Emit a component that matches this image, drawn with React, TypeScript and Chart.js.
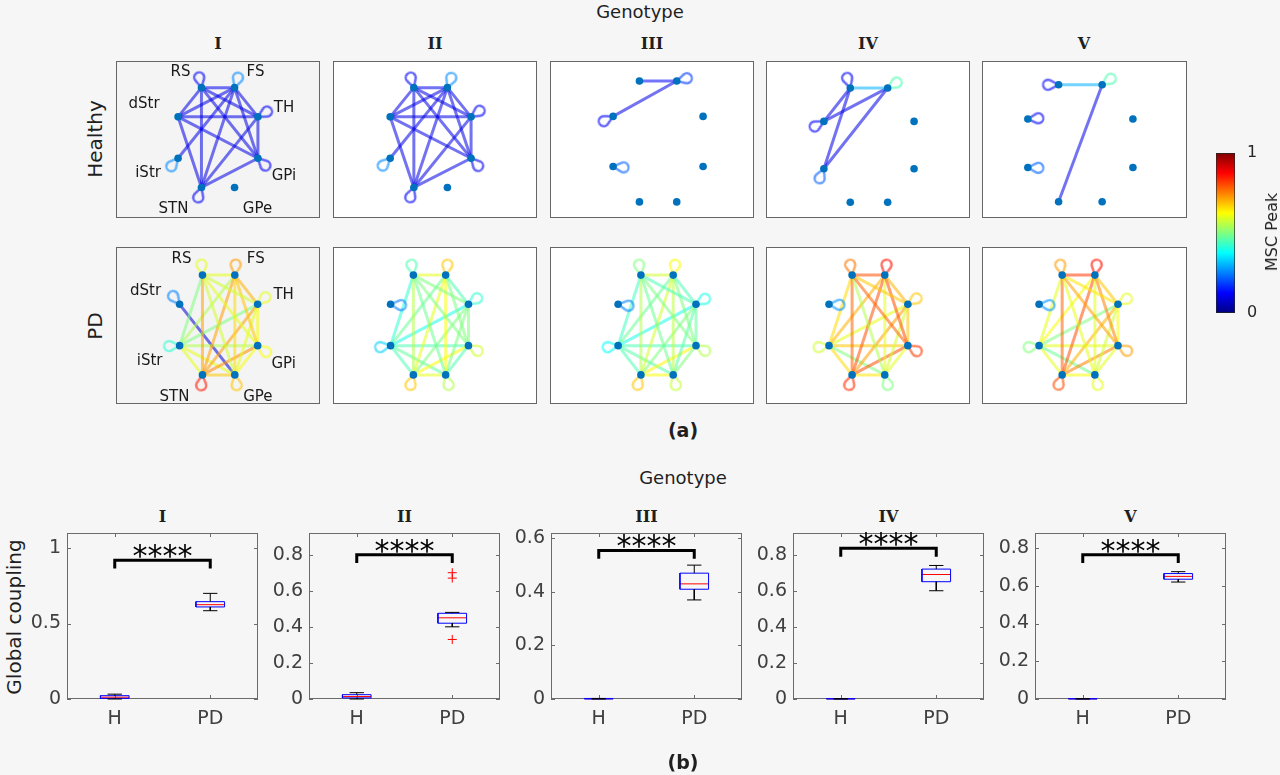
import React, { useEffect, useRef } from 'react';
import { Chart, registerables } from 'chart.js';
Chart.register(...registerables);

// ---------------- Network data ----------------
const nodeNames = ['RS', 'FS', 'TH', 'GPi', 'GPe', 'STN', 'iStr', 'dStr'];
const nodeX = [-0.383, 0.383, 0.924, 0.924, 0.383, -0.383, -0.924, -0.924];
const nodeY = [0.924, 0.924, 0.383, -0.383, -0.924, -0.924, -0.383, 0.383];

type Edge = [string, string, number];
type Loop = [string, number, number]; // node, MSC value, direction (deg)

const healthyEdgesI: Edge[] = [
  ['RS', 'FS', 0.11], ['RS', 'dStr', 0.1], ['RS', 'TH', 0.1], ['RS', 'GPi', 0.1], ['RS', 'STN', 0.1],
  ['FS', 'dStr', 0.1], ['FS', 'TH', 0.1], ['FS', 'iStr', 0.1], ['FS', 'STN', 0.1], ['FS', 'GPi', 0.1],
  ['dStr', 'TH', 0.1], ['dStr', 'GPi', 0.1], ['dStr', 'STN', 0.1], ['TH', 'GPi', 0.1], ['TH', 'STN', 0.1], ['GPi', 'STN', 0.1],
];
const healthyLoopsI: Loop[] = [['RS', 0.12, -102], ['FS', 0.26, -71], ['TH', 0.12, -30], ['GPi', 0.12, 45], ['STN', 0.12, 108], ['iStr', 0.26, 130]];

const healthyEdgesII: Edge[] = [
  ['RS', 'FS', 0.11], ['RS', 'dStr', 0.1], ['RS', 'TH', 0.1], ['RS', 'GPi', 0.1], ['RS', 'STN', 0.1],
  ['FS', 'dStr', 0.1], ['FS', 'TH', 0.1], ['FS', 'iStr', 0.1], ['FS', 'STN', 0.1], ['FS', 'GPi', 0.1],
  ['dStr', 'TH', 0.1], ['dStr', 'GPi', 0.1], ['dStr', 'STN', 0.1], ['TH', 'GPi', 0.1], ['TH', 'STN', 0.1], ['GPi', 'STN', 0.1],
];
const healthyLoopsII: Loop[] = [['RS', 0.12, -107], ['FS', 0.26, -68], ['TH', 0.12, -35], ['GPi', 0.12, 48], ['STN', 0.12, 110], ['iStr', 0.26, 135]];

const healthyEdgesIII: Edge[] = [['RS', 'FS', 0.12], ['FS', 'dStr', 0.1]];
const healthyLoopsIII: Loop[] = [['FS', 0.18, -15], ['dStr', 0.12, 153], ['iStr', 0.22, 5]];

const healthyEdgesIV: Edge[] = [['RS', 'FS', 0.3], ['RS', 'dStr', 0.1], ['RS', 'iStr', 0.1], ['FS', 'dStr', 0.1], ['FS', 'iStr', 0.1]];
const healthyLoopsIV: Loop[] = [['RS', 0.12, -107], ['FS', 0.45, -31], ['dStr', 0.12, 151], ['iStr', 0.22, 114]];

const healthyEdgesV: Edge[] = [['RS', 'FS', 0.3], ['FS', 'STN', 0.1]];
const healthyLoopsV: Loop[] = [['RS', 0.12, 180], ['FS', 0.45, -35], ['dStr', 0.12, -4], ['iStr', 0.22, 2]];

const pdEdgesI: Edge[] = [
  ['RS', 'FS', 0.6], ['RS', 'TH', 0.58], ['RS', 'GPi', 0.6], ['RS', 'GPe', 0.58], ['RS', 'STN', 0.72], ['RS', 'iStr', 0.5],
  ['FS', 'TH', 0.7], ['FS', 'GPi', 0.68], ['FS', 'GPe', 0.66], ['FS', 'STN', 0.72], ['FS', 'iStr', 0.55],
  ['TH', 'GPi', 0.62], ['TH', 'GPe', 0.6], ['TH', 'STN', 0.72], ['TH', 'iStr', 0.5],
  ['GPi', 'GPe', 0.62], ['GPi', 'STN', 0.74], ['GPi', 'iStr', 0.55],
  ['GPe', 'STN', 0.68], ['GPe', 'iStr', 0.6], ['STN', 'iStr', 0.6], ['dStr', 'GPe', 0.08],
];
const pdLoopsI: Loop[] = [['RS', 0.6, -95], ['FS', 0.72, -85], ['dStr', 0.25, -128], ['TH', 0.6, -42], ['iStr', 0.42, 178], ['GPi', 0.62, 37], ['STN', 0.85, 97], ['GPe', 0.68, 80]];

const pdEdgesII: Edge[] = [
  ['RS', 'FS', 0.6], ['RS', 'TH', 0.5], ['RS', 'GPi', 0.5], ['RS', 'GPe', 0.48], ['RS', 'STN', 0.55], ['RS', 'iStr', 0.42],
  ['FS', 'TH', 0.45], ['FS', 'GPi', 0.5], ['FS', 'GPe', 0.62], ['FS', 'STN', 0.6], ['FS', 'iStr', 0.48],
  ['TH', 'GPi', 0.5], ['TH', 'GPe', 0.5], ['TH', 'STN', 0.5], ['TH', 'iStr', 0.4],
  ['GPi', 'GPe', 0.45], ['GPi', 'STN', 0.62], ['GPi', 'iStr', 0.45],
  ['GPe', 'STN', 0.6], ['GPe', 'iStr', 0.47], ['STN', 'iStr', 0.45],
];
const pdLoopsII: Loop[] = [['RS', 0.45, -100], ['FS', 0.68, -80], ['dStr', 0.25, 5], ['TH', 0.42, -35], ['iStr', 0.33, 172], ['GPi', 0.58, 30], ['STN', 0.68, 106], ['GPe', 0.55, 74]];

const pdEdgesIII: Edge[] = [
  ['RS', 'FS', 0.58], ['RS', 'TH', 0.45], ['RS', 'GPi', 0.5], ['RS', 'GPe', 0.48], ['RS', 'STN', 0.55], ['RS', 'iStr', 0.44],
  ['FS', 'TH', 0.45], ['FS', 'GPi', 0.5], ['FS', 'GPe', 0.56], ['FS', 'STN', 0.58], ['FS', 'iStr', 0.48],
  ['TH', 'GPi', 0.47], ['TH', 'GPe', 0.46], ['TH', 'STN', 0.5], ['TH', 'iStr', 0.4],
  ['GPi', 'GPe', 0.5], ['GPi', 'STN', 0.63], ['GPi', 'iStr', 0.45],
  ['GPe', 'STN', 0.62], ['GPe', 'iStr', 0.46], ['STN', 'iStr', 0.45],
];
const pdLoopsIII: Loop[] = [['RS', 0.5, -100], ['FS', 0.62, -80], ['dStr', 0.25, 8], ['TH', 0.4, -31], ['iStr', 0.38, 172], ['GPi', 0.55, 30], ['STN', 0.68, 108], ['GPe', 0.57, 76]];

const pdEdgesIV: Edge[] = [
  ['RS', 'FS', 0.8], ['RS', 'TH', 0.68], ['RS', 'GPi', 0.78], ['RS', 'GPe', 0.55], ['RS', 'STN', 0.78], ['RS', 'iStr', 0.66],
  ['FS', 'TH', 0.7], ['FS', 'GPi', 0.8], ['FS', 'GPe', 0.6], ['FS', 'STN', 0.8], ['FS', 'iStr', 0.7],
  ['TH', 'GPi', 0.68], ['TH', 'GPe', 0.58], ['TH', 'STN', 0.72], ['TH', 'iStr', 0.6],
  ['GPi', 'GPe', 0.6], ['GPi', 'STN', 0.8], ['GPi', 'iStr', 0.68],
  ['GPe', 'STN', 0.65], ['GPe', 'iStr', 0.5], ['STN', 'iStr', 0.66],
];
const pdLoopsIV: Loop[] = [['RS', 0.76, -100], ['FS', 0.86, -80], ['dStr', 0.27, 3], ['TH', 0.68, -34], ['iStr', 0.58, 172], ['GPi', 0.82, 32], ['STN', 0.83, 106], ['GPe', 0.5, 74]];

const pdEdgesV: Edge[] = [
  ['RS', 'FS', 0.82], ['RS', 'TH', 0.65], ['RS', 'GPi', 0.72], ['RS', 'GPe', 0.6], ['RS', 'STN', 0.78], ['RS', 'iStr', 0.6],
  ['FS', 'TH', 0.68], ['FS', 'GPi', 0.75], ['FS', 'GPe', 0.6], ['FS', 'STN', 0.8], ['FS', 'iStr', 0.62],
  ['TH', 'GPi', 0.62], ['TH', 'GPe', 0.58], ['TH', 'STN', 0.7], ['TH', 'iStr', 0.5],
  ['GPi', 'GPe', 0.6], ['GPi', 'STN', 0.75], ['GPi', 'iStr', 0.6],
  ['GPe', 'STN', 0.62], ['GPe', 'iStr', 0.48], ['STN', 'iStr', 0.6],
];
const pdLoopsV: Loop[] = [['RS', 0.72, -100], ['FS', 0.86, -80], ['dStr', 0.27, 5], ['TH', 0.6, -32], ['iStr', 0.5, 172], ['GPi', 0.72, 30], ['STN', 0.8, 110], ['GPe', 0.6, 74]];

// ---------------- Colorbar ----------------
const colorbarTicks = [0, 1];

// ---------------- Box plot data ----------------
const groups = ['H', 'PD'];
const panelTitles = ['I', 'II', 'III', 'IV', 'V'];
const hLow = [0, 0, 0, 0, 0];
const hQ1 = [0.004, 0.006, 0, 0, 0];
const hMed = [0.012, 0.014, 0.001, 0.001, 0.001];
const hQ3 = [0.022, 0.024, 0.002, 0.002, 0.002];
const hHigh = [0.032, 0.035, 0.002, 0.002, 0.002];
const pdLow = [0.585, 0.4, 0.37, 0.6, 0.62];
const pdQ1 = [0.61, 0.42, 0.41, 0.65, 0.635];
const pdMed = [0.625, 0.45, 0.43, 0.69, 0.65];
const pdQ3 = [0.645, 0.475, 0.47, 0.72, 0.665];
const pdHigh = [0.7, 0.48, 0.5, 0.74, 0.675];
const pdOutliers = [[], [0.7, 0.67, 0.33], [], [], []] as number[][];
const yMaxes = [1.1, 0.92, 0.62, 0.92, 0.88];
const yTickValues = [[0, 0.5, 1], [0, 0.2, 0.4, 0.6, 0.8], [0, 0.2, 0.4, 0.6], [0, 0.2, 0.4, 0.6, 0.8], [0, 0.2, 0.4, 0.6, 0.8]];
const bracketY = [0.92, 0.8, 0.555, 0.835, 0.765];
const starLabel = '****';

// ---------------- Styles / layout ----------------
const SANS = '"DejaVu Sans", sans-serif';
const SERIF = '"DejaVu Serif", serif';
const NODE_COLOR = '#0072BD';
const EDGE_ALPHA = 0.55;
const LOOP_ALPHA = 0.6;

function jet(v: number, a = 1) {
  const c = (t: number) => Math.round(255 * Math.max(0, Math.min(1, t)));
  const r = c(1.5 - Math.abs(4 * v - 3));
  const g = c(1.5 - Math.abs(4 * v - 2));
  const b = c(1.5 - Math.abs(4 * v - 1));
  return `rgba(${r},${g},${b},${a})`;
}

const loopCache: Record<string, HTMLCanvasElement> = {};
function loopImage(color: string) {
  if (loopCache[color]) return loopCache[color];
  const d = 10.5, r = 5, lw = 2.4;
  const half = Math.ceil(d + r + lw + 1);
  const cv = document.createElement('canvas');
  cv.width = half * 2;
  cv.height = half * 2;
  const ctx = cv.getContext('2d')!;
  const th = Math.acos(r / d);
  ctx.beginPath();
  ctx.moveTo(half, half);
  ctx.arc(half + d, half, r, Math.PI + th, 3 * Math.PI - th, false);
  ctx.closePath();
  ctx.strokeStyle = color;
  ctx.lineWidth = lw;
  ctx.lineJoin = 'round';
  ctx.stroke();
  loopCache[color] = cv;
  return cv;
}

const labelOffsets: Record<string, [number, number]> = {
  RS: [-21, -16], FS: [21, -16], TH: [26, -9], GPi: [26, 18], GPe: [23, 22], STN: [-28, 22], iStr: [-30, 15], dStr: [-34, -13],
};

const nodeLabelPlugin = {
  id: 'nodeLabels',
  afterDatasetsDraw(chart: any, _args: any, opts: any) {
    if (!opts || !opts.show) return;
    const { ctx, scales } = chart;
    ctx.save();
    ctx.font = `15px ${SANS}`;
    ctx.fillStyle = '#1a1a1a';
    ctx.textAlign = 'center';
    ctx.textBaseline = 'middle';
    nodeNames.forEach((n, i) => {
      const px = scales.x.getPixelForValue(nodeX[i]) + labelOffsets[n][0];
      const py = scales.y.getPixelForValue(nodeY[i]) + labelOffsets[n][1];
      ctx.fillText(n, px, py);
    });
    ctx.restore();
  },
};

type NetPanel = { edges: Edge[]; loops: Loop[]; box: number[]; lim: number[]; labels: boolean; bg: string };
const netPanels: NetPanel[] = [
  { edges: healthyEdgesI, loops: healthyLoopsI, box: [116, 61, 204, 157], lim: [-2.36, 2.36, -1.49, 1.417], labels: true, bg: '#f4f4f4' },
  { edges: healthyEdgesII, loops: healthyLoopsII, box: [333, 61, 204, 157], lim: [-2.23, 2.43, -1.49, 1.417], labels: false, bg: '#ffffff' },
  { edges: healthyEdgesIII, loops: healthyLoopsIII, box: [550, 61, 204, 157], lim: [-2.22, 1.97, -1.17, 1.23], labels: false, bg: '#ffffff' },
  { edges: healthyEdgesIV, loops: healthyLoopsIV, box: [766, 61, 204, 157], lim: [-2.11, 2.07, -1.18, 1.36], labels: false, bg: '#ffffff' },
  { edges: healthyEdgesV, loops: healthyLoopsV, box: [982, 61, 205, 157], lim: [-1.73, 1.875, -1.18, 1.3], labels: false, bg: '#ffffff' },
  { edges: pdEdgesI, loops: pdLoopsI, box: [116, 247, 204, 157], lim: [-2.43, 2.4, -1.463, 1.444], labels: true, bg: '#f4f4f4' },
  { edges: pdEdgesII, loops: pdLoopsII, box: [333, 247, 204, 157], lim: [-2.29, 2.55, -1.463, 1.444], labels: false, bg: '#ffffff' },
  { edges: pdEdgesIII, loops: pdLoopsIII, box: [550, 247, 204, 157], lim: [-2.54, 2.3, -1.463, 1.444], labels: false, bg: '#ffffff' },
  { edges: pdEdgesIV, loops: pdLoopsIV, box: [766, 247, 204, 157], lim: [-2.4, 2.38, -1.463, 1.444], labels: false, bg: '#ffffff' },
  { edges: pdEdgesV, loops: pdLoopsV, box: [982, 247, 205, 157], lim: [-2.26, 2.54, -1.463, 1.444], labels: false, bg: '#ffffff' },
];

function networkConfig(p: NetPanel): any {
  const idx = (n: string) => nodeNames.indexOf(n);
  const pt = (n: string) => ({ x: nodeX[idx(n)], y: nodeY[idx(n)] });
  const datasets: any[] = p.edges.map(([a, b, v]) => ({
    data: [pt(a), pt(b)],
    showLine: true,
    borderColor: jet(v, EDGE_ALPHA),
    borderWidth: 3,
    pointRadius: 0,
    order: 3,
  }));
  datasets.push({
    data: p.loops.map(([n]) => pt(n)),
    pointStyle: p.loops.map(([, v]) => loopImage(jet(v, LOOP_ALPHA))),
    pointRotation: p.loops.map((l) => l[2]),
    pointRadius: 8,
    order: 2,
  });
  datasets.push({
    data: nodeNames.map((n) => pt(n)),
    pointRadius: 3.8,
    pointBackgroundColor: NODE_COLOR,
    pointBorderWidth: 0,
    order: 1,
  });
  return {
    type: 'scatter',
    data: { datasets },
    plugins: [nodeLabelPlugin],
    options: {
      animation: false,
      responsive: false,
      events: [],
      layout: { padding: 0, autoPadding: false },
      scales: {
        x: { type: 'linear', display: false, min: p.lim[0], max: p.lim[1] },
        y: { type: 'linear', display: false, min: p.lim[2], max: p.lim[3] },
      },
      plugins: { legend: { display: false }, tooltip: { enabled: false }, nodeLabels: { show: p.labels } },
    },
  };
}

function colorbarConfig(): any {
  return {
    type: 'bar',
    data: {
      labels: [''],
      datasets: [{
        data: [[0, 1]],
        backgroundColor: (c: any) => {
          const ca = c.chart.chartArea;
          if (!ca) return 'transparent';
          const g = c.chart.ctx.createLinearGradient(0, ca.bottom, 0, ca.top);
          [0, 0.125, 0.375, 0.625, 0.875, 1].forEach((s) => g.addColorStop(s, jet(s)));
          return g;
        },
        borderColor: '#262626',
        borderWidth: 1,
        borderSkipped: false,
        barPercentage: 1,
        categoryPercentage: 1,
      }],
    },
    options: {
      animation: false,
      responsive: false,
      events: [],
      layout: { padding: { top: 12, bottom: 12, left: 0, right: 0 }, autoPadding: false },
      scales: {
        x: { display: false },
        y: {
          position: 'right', min: 0, max: 1,
          afterBuildTicks: (s: any) => { s.ticks = colorbarTicks.map((v) => ({ value: v })); },
          afterFit: (s: any) => { s.width = 40; s.paddingTop = 0; s.paddingBottom = 0; },
          ticks: { font: { family: SANS, size: 16 }, color: '#262626', padding: 12 },
          grid: { display: false, drawTicks: false },
          border: { display: false },
        },
      },
      plugins: { legend: { display: false }, tooltip: { enabled: false } },
    },
  };
}

const framePlugin = {
  id: 'frame',
  beforeDatasetsDraw(chart: any) {
    const { ctx, chartArea: a, scales } = chart;
    ctx.save();
    ctx.strokeStyle = '#6b6b6b';
    ctx.lineWidth = 1;
    ctx.strokeRect(Math.round(a.left) + 0.5, Math.round(a.top) + 0.5, Math.round(a.right - a.left) - 1, Math.round(a.bottom - a.top) - 1);
    ctx.beginPath();
    scales.y.ticks.forEach((t: any) => {
      const y = Math.round(scales.y.getPixelForValue(t.value)) + 0.5;
      ctx.moveTo(a.left, y); ctx.lineTo(a.left + 4, y);
      ctx.moveTo(a.right, y); ctx.lineTo(a.right - 4, y);
    });
    scales.x.ticks.forEach((t: any) => {
      const x = Math.round(scales.x.getPixelForValue(t.value)) + 0.5;
      ctx.moveTo(x, a.bottom); ctx.lineTo(x, a.bottom - 4);
      ctx.moveTo(x, a.top); ctx.lineTo(x, a.top + 4);
    });
    ctx.stroke();
    ctx.restore();
  },
};

const starsPlugin = {
  id: 'stars',
  afterDatasetsDraw(chart: any, _a: any, opts: any) {
    const { ctx, scales } = chart;
    ctx.save();
    ctx.font = `30px ${SANS}`;
    ctx.fillStyle = '#000';
    ctx.textAlign = 'center';
    ctx.textBaseline = 'alphabetic';
    ctx.fillText(opts.text, scales.x.getPixelForValue(1.5), scales.y.getPixelForValue(opts.y) + 6);
    ctx.restore();
  },
};

const BOX_HALF = 0.15;
const CAP_HALF = 0.075;

function boxConfig(i: number): any {
  const stats = [
    { x: 1, lo: hLow[i], q1: hQ1[i], med: hMed[i], q3: hQ3[i], hi: hHigh[i], out: [] as number[] },
    { x: 2, lo: pdLow[i], q1: pdQ1[i], med: pdMed[i], q3: pdQ3[i], hi: pdHigh[i], out: pdOutliers[i] },
  ];
  const line = (data: any[], color: string, width = 1) => ({ data, showLine: true, borderColor: color, borderWidth: width, pointRadius: 0, fill: false, clip: 4 });
  const datasets: any[] = [];
  stats.forEach((s) => {
    datasets.push(line([{ x: s.x, y: s.q3 }, { x: s.x, y: s.hi }], '#000'));
    datasets.push(line([{ x: s.x, y: s.q1 }, { x: s.x, y: s.lo }], '#000'));
    datasets.push(line([{ x: s.x - CAP_HALF, y: s.hi }, { x: s.x + CAP_HALF, y: s.hi }], '#000'));
    datasets.push(line([{ x: s.x - CAP_HALF, y: s.lo }, { x: s.x + CAP_HALF, y: s.lo }], '#000'));
    datasets.push(line([
      { x: s.x - BOX_HALF, y: s.q1 }, { x: s.x + BOX_HALF, y: s.q1 }, { x: s.x + BOX_HALF, y: s.q3 },
      { x: s.x - BOX_HALF, y: s.q3 }, { x: s.x - BOX_HALF, y: s.q1 },
    ], '#0000ff'));
    datasets.push(line([{ x: s.x - BOX_HALF, y: s.med }, { x: s.x + BOX_HALF, y: s.med }], '#ff0000'));
    if (s.out.length) {
      datasets.push({ data: s.out.map((v) => ({ x: s.x, y: v })), pointStyle: 'cross', pointRadius: 4.5, borderColor: '#ff0000', pointBorderWidth: 1, showLine: false });
    }
  });
  const drop = yMaxes[i] * 0.05;
  datasets.push(line([{ x: 1, y: bracketY[i] - drop }, { x: 1, y: bracketY[i] }, { x: 2, y: bracketY[i] }, { x: 2, y: bracketY[i] - drop }], '#000', 3));
  return {
    type: 'scatter',
    data: { datasets },
    plugins: [framePlugin, starsPlugin],
    options: {
      animation: false,
      responsive: false,
      events: [],
      layout: { padding: { left: 0, right: 8, top: 14, bottom: 0 }, autoPadding: false },
      scales: {
        x: {
          type: 'linear', min: 0.5, max: 2.5,
          afterBuildTicks: (s: any) => { s.ticks = groups.map((_, k) => ({ value: k + 1 })); },
          afterFit: (s: any) => { s.height = 40; s.paddingLeft = 0; s.paddingRight = 0; },
          ticks: { callback: (v: number) => groups[v - 1] ?? '', font: { family: SANS, size: 19 }, color: '#404040', padding: 9 },
          grid: { display: false, drawTicks: false },
          border: { display: false },
        },
        y: {
          type: 'linear', min: 0, max: yMaxes[i],
          afterBuildTicks: (s: any) => { s.ticks = yTickValues[i].map((v) => ({ value: v })); },
          afterFit: (s: any) => { s.width = 60; s.paddingTop = 0; s.paddingBottom = 0; },
          ticks: { callback: (v: number) => String(v), font: { family: SANS, size: 19 }, color: '#404040', padding: 6 },
          grid: { display: false, drawTicks: false },
          border: { display: false },
        },
      },
      plugins: { legend: { display: false }, tooltip: { enabled: false }, stars: { text: starLabel, y: bracketY[i] } },
    },
  };
}

const boxLeft = [67, 309, 551, 793, 1035];
const BOX_TOP = 533, BOX_W = 191, BOX_H = 166;

function ChartCanvas({ left, top, width, height, make }: { left: number; top: number; width: number; height: number; make: () => any }) {
  const ref = useRef<HTMLCanvasElement | null>(null);
  useEffect(() => {
    const chart = new Chart(ref.current!, make());
    return () => chart.destroy();
  }, []);
  return (
    <canvas ref={ref} width={width} height={height}
      style={{ position: 'absolute', left, top, width, height, display: 'block' }} />
  );
}

function Label({ x, y, text, size, weight = 'normal', family = SANS, rotate = 0, color = '#1f1f1f' }: any) {
  return (
    <div style={{
      position: 'absolute', left: x, top: y, transform: `translate(-50%, -50%) rotate(${rotate}deg)`,
      fontFamily: family, fontSize: size, fontWeight: weight, color, whiteSpace: 'nowrap', lineHeight: 1,
    }}>{text}</div>
  );
}

export default function App() {
  const colCenters = [218, 435, 652, 868, 1084];
  return (
    <div style={{ position: 'fixed', left: 0, top: 0, width: 1280, height: 775, background: '#f6f6f6', overflow: 'hidden' }}>
      <Label x={640} y={12} text="Genotype" size={18} />
      {panelTitles.map((t, i) => <Label key={'t' + i} x={colCenters[i]} y={44} text={t} size={16} weight="bold" family={SERIF} />)}
      <Label x={95} y={139} text="Healthy" size={20} rotate={-90} />
      <Label x={95} y={326} text="PD" size={20} rotate={-90} />
      {netPanels.map((p, i) => (
        <div key={'b' + i} style={{ position: 'absolute', left: p.box[0], top: p.box[1], width: p.box[2], height: p.box[3], background: p.bg, border: '1px solid #666', boxSizing: 'border-box' }} />
      ))}
      {netPanels.map((p, i) => (
        <ChartCanvas key={'n' + i} left={p.box[0]} top={p.box[1]} width={p.box[2]} height={p.box[3]} make={() => networkConfig(p)} />
      ))}
      <ChartCanvas left={1216} top={141} width={59} height={184} make={colorbarConfig} />
      <Label x={1272} y={232} text="MSC Peak" size={16} rotate={-90} />
      <Label x={683} y={430} text="(a)" size={19} weight="bold" />
      <Label x={683} y={478} text="Genotype" size={18} />
      {panelTitles.map((t, i) => <Label key={'bt' + i} x={boxLeft[i] + BOX_W / 2} y={517} text={t} size={16} weight="bold" family={SERIF} />)}
      <Label x={14} y={617} text="Global coupling" size={20} rotate={-90} />
      {panelTitles.map((_, i) => (
        <ChartCanvas key={'bx' + i} left={boxLeft[i] - 60} top={BOX_TOP - 14} width={BOX_W + 68} height={BOX_H + 54} make={() => boxConfig(i)} />
      ))}
      <Label x={683} y={762} text="(b)" size={19} weight="bold" />
    </div>
  );
}
